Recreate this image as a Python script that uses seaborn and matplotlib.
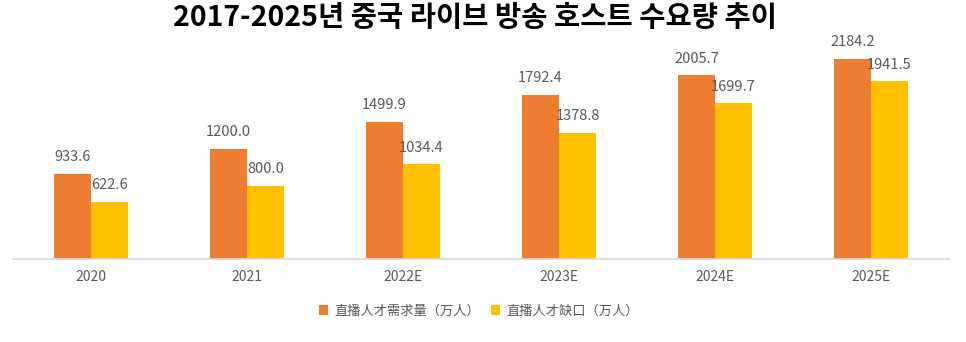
import matplotlib
matplotlib.use("Agg")
import matplotlib.pyplot as plt
import seaborn as sns
import pandas as pd

title = "2017-2025년 중국 라이브 방송 호스트 수요량 추이"
years = ["2020", "2021", "2022E", "2023E", "2024E", "2025E"]
demand = [933.6, 1200.0, 1499.9, 1792.4, 2005.7, 2184.2]
gap = [622.6, 800.0, 1034.4, 1378.8, 1699.7, 1941.5]
series_names = ["直播人才需求量（万人）", "直播人才缺口（万人）"]
colors = ["#ED7D31", "#FFC000"]

df = pd.DataFrame({
    "year": years * 2,
    "value": demand + gap,
    "series": [series_names[0]] * len(years) + [series_names[1]] * len(years),
})

sns.set_theme(style="white")
plt.rcParams["font.family"] = ["Noto Sans CJK SC", "DejaVu Sans"]

fig = plt.figure(figsize=(9.66, 3.42), dpi=100)
ax = fig.add_axes([13 / 966, 1 - 259 / 342, (949 - 13) / 966, (259 - 40) / 342])

sns.barplot(data=df, x="year", y="value", hue="series", palette=colors,
            width=0.474, ax=ax, saturation=1, legend=True, edgecolor="none")

ax.set_xlim(-0.5, 5.5)
ax.set_ylim(0, 219 / 200 * 2184.2)
ax.set_xlabel("")
ax.set_ylabel("")
ax.set_yticks([])
for s in ["top", "right", "left"]:
    ax.spines[s].set_visible(False)
ax.spines["bottom"].set_color("#D9D9D9")
ax.spines["bottom"].set_linewidth(1.2)
ax.tick_params(axis="x", length=0, pad=8, labelsize=10, labelcolor="#595959")

for i, cont in enumerate(ax.containers):
    ax.bar_label(cont, fmt="%.1f", padding=7, fontsize=10.5, color="#595959")

handles, labels = ax.get_legend_handles_labels()
ax.legend_.remove()
fig.legend(handles, labels, loc="center", bbox_to_anchor=(479 / 966, 1 - 311 / 342),
           ncol=2, frameon=False, fontsize=9.5, handlelength=0.7, handleheight=0.7,
           handletextpad=0.5, columnspacing=0.8, labelcolor="#595959")

fig.text(475 / 966, 1 - 18 / 342, title, ha="center", va="center",
         fontsize=20.5, fontweight="bold", family=["Noto Sans CJK KR", "DejaVu Sans"],
         color="black")

fig.savefig("out.png", dpi=100, facecolor="white")
